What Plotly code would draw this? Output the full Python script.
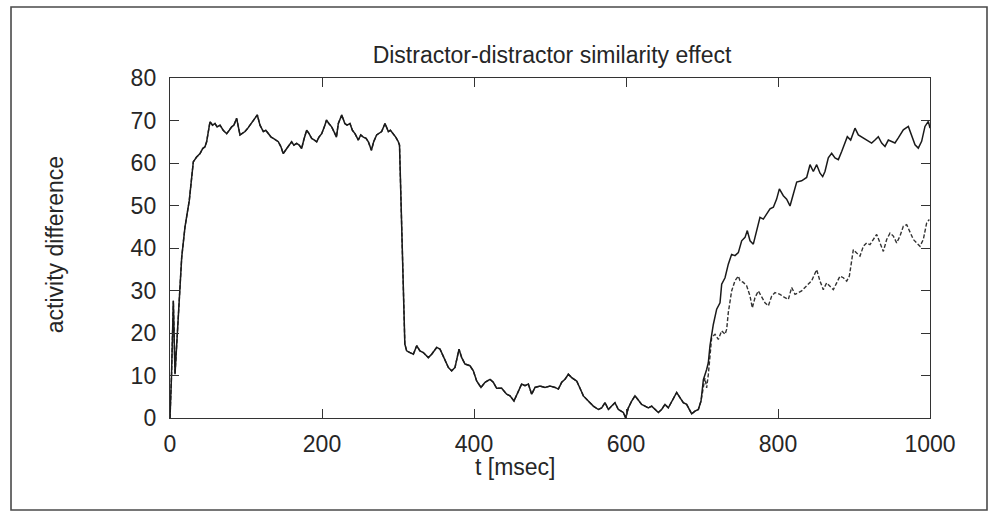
import plotly.graph_objects as go

# ---- activity difference, solid trace (t in msec, value) ----
t_onset = [0, 2, 4.4, 6.6, 15.4, 19.7, 25.4, 30.7, 35, 39.5, 43, 46, 48.2, 50.4]
v_onset = [0, 10, 27.6, 10.3, 37.8, 44.9, 51.2, 60.3, 61.4, 62.2, 63.4, 63.8, 65.0, 67.7]

t_high = [52.6, 56, 59.2, 62, 65.8, 70, 74.6, 78, 81.1, 84, 87.7, 92.1, 95, 98.7, 102,
          105.3, 109.6, 114.9, 118.4, 122.8, 126, 129.4, 133, 136, 140, 142.5, 146, 149,
          152, 155.7, 160, 163, 166.7, 170, 173.2, 176, 179.8, 183, 186.4, 190, 193, 196,
          199.6, 203, 206, 209, 212.7, 217, 219, 221.5, 226, 230, 233, 236.8, 240, 243.4,
          247.8, 251, 254.4, 258, 261, 265, 268, 271.9, 275, 278.5, 282.9, 285, 287.3, 290,
          293.9, 297, 300.4, 302]
v_high = [69.7, 68.9, 69.3, 68.5, 68.9, 67.7, 66.9, 67.7, 68.5, 68.9, 70.5, 66.6, 66.9, 67.4,
          68.1, 68.9, 70.1, 71.3, 68.9, 67.4, 67.7, 66.9, 66.1, 65.8, 65.4, 65.0, 63.8, 62.2,
          63.0, 63.8, 65.0, 64.2, 64.6, 64.2, 63.4, 65.4, 67.7, 66.9, 65.8, 65.4, 65.0, 66.1,
          66.9, 68.5, 70.1, 69.3, 68.5, 66.9, 66.1, 69.3, 71.3, 69.3, 68.9, 69.3, 67.7, 66.9,
          65.4, 66.6, 66.1, 65.8, 65.0, 63.0, 65.0, 66.6, 66.9, 67.4, 69.3, 68.5, 67.4, 67.7,
          66.9, 66.1, 65.0, 64.2]

t_low = [309, 311.4, 315.8, 320.2, 324.6, 328.9, 333.3, 339.9, 344.3, 350.9, 355.3, 359.6,
         366.2, 370.6, 375, 380.3, 383.8, 388.2, 394.7, 399.1, 403.5, 409.2, 414.5, 421.1,
         425.4, 429.8, 436.4, 443, 447.4, 452.6, 458.3, 462.7, 467.1, 471.5, 475.9, 480.3,
         486.8, 493.4, 500, 506.6, 511, 515.4, 519.7, 524.1, 528.5, 535.1, 539.5, 543.9,
         550.4, 557, 563.6, 568, 572.4, 576.8, 581.1, 585.5, 589.9, 596.5, 599.6, 603.1,
         607.5, 611.8, 615.4, 620.6, 625, 629.4, 633.8, 638.2, 642.5, 646.9, 651.3, 655.7,
         660.1, 666.7, 671, 675.4, 679.8, 686.4, 690.8, 695.2, 698.7]
v_low = [17.4, 15.8, 15.4, 15.0, 17.0, 15.8, 15.4, 14.2, 15.0, 16.6, 16.2, 14.6,
         11.9, 11.1, 11.9, 16.2, 14.2, 12.7, 12.3, 11.1, 8.7, 7.2, 8.4, 9.1,
         8.4, 7.0, 7.0, 5.6, 5.2, 4.0, 6.4, 8.0, 7.6, 8.0, 5.6, 7.2,
         7.5, 7.2, 7.5, 7.2, 6.8, 8.4, 9.1, 10.3, 9.5, 8.7, 7.0, 5.2,
         4.0, 2.8, 2.0, 2.4, 3.6, 2.0, 2.8, 3.6, 2.0, 1.3, 0.0, 2.4,
         4.0, 5.2, 4.4, 3.2, 2.8, 2.4, 2.8, 2.0, 1.3, 2.0, 3.2, 2.4,
         4.0, 6.0, 4.8, 3.6, 3.2, 1.0, 1.6, 2.0, 4.0]

t_recover = [701.8, 706.1, 708.3, 710.5, 714.9, 719.3, 723.7, 725.9, 730.3, 734.6, 739,
             743.4, 747.8, 752.2, 756.6, 759.6, 763.2, 767.5, 771.9, 776.3, 780.7, 785.1,
             789.5, 793.9, 798.2, 801.8, 807, 811.4, 815.8, 820.2, 824.6, 831.1, 837.7,
             842.1, 846.5, 850.9, 855.3, 858.8, 861.8, 866.2, 870.6, 875, 879.4, 883.8,
             888.2, 891.2, 895.6, 901.3, 905.7, 912.3, 918.9, 923.2, 927.6, 932, 936.4,
             940.8, 945.2, 949.6, 953.9, 958.3, 964.9, 971.5, 975.9, 980.3, 984.6, 989,
             993.4, 997.8, 1000]
v_recover = [9.0, 11.4, 13.0, 17.0, 22.0, 25.6, 27.1, 31.5, 33.0, 36.2, 38.5,
             38.2, 38.9, 41.7, 42.5, 44.1, 41.7, 40.9, 44.1, 47.2, 46.8, 48.0,
             49.2, 49.6, 51.5, 53.9, 52.3, 51.5, 49.9, 52.7, 55.5, 55.8, 56.6,
             59.6, 58.0, 59.6, 57.6, 56.8, 58.0, 61.2, 62.3, 61.2, 60.8, 62.7,
             64.7, 66.2, 65.4, 68.2, 66.6, 65.9, 65.1, 64.7, 65.4, 66.2, 64.7,
             63.9, 65.4, 65.1, 64.7, 65.9, 67.8, 68.6, 66.6, 64.3, 63.5, 65.1,
             68.6, 69.8, 68.2]

# ---- dashed trace: follows the solid one until ~700 msec, then splits off ----
t_split = [703.9, 706.1, 708.3, 712.7, 717.1, 721.5, 725.9, 730.3, 732.5, 734.6, 739,
           743.4, 747.8, 750, 754.4, 758.8, 763.2, 766.2, 769.7, 774.1, 778.5, 782.9,
           787.3, 791.7, 796.1, 802.6, 809.2, 813.6, 818, 822.4, 826.8, 831.1, 835.5,
           839.9, 844.3, 850.9, 855.3, 859.6, 864, 868.4, 872.8, 877.2, 881.6, 886,
           890.4, 893.9, 896.9, 899.1, 903.5, 907.9, 912.3, 916.7, 921, 925.4, 929.8,
           934.2, 938.6, 943, 947.4, 951.8, 956.1, 960.5, 964.9, 969.3, 973.7, 978.1,
           982.5, 986.8, 991.2, 995.6, 999.1]
v_split = [9.4, 7.1, 10.2, 18.9, 19.7, 18.5, 20.5, 19.7, 20.9, 24.8, 29.9,
           32.3, 33.4, 32.3, 31.9, 31.1, 28.7, 25.9, 28.3, 29.9, 28.3, 27.1,
           26.4, 28.7, 29.5, 29.1, 28.3, 27.9, 30.7, 29.1, 29.5, 29.9, 30.7,
           31.5, 32.3, 34.9, 32.2, 30.2, 31.8, 31.0, 30.2, 31.8, 33.4, 33.0,
           32.2, 33.4, 36.5, 39.6, 38.8, 38.1, 40.4, 41.2, 40.8, 42.0, 43.2,
           41.2, 39.2, 42.0, 43.5, 42.8, 41.2, 42.8, 45.1, 45.5, 43.9, 42.0,
           41.2, 40.4, 42.0, 45.9, 46.7]

# ---- axes ----
x_ticks = [0, 200, 400, 600, 800, 1000]
y_ticks = [0, 10, 20, 30, 40, 50, 60, 70, 80]

solid_t = t_onset + t_high + t_low + t_recover
solid_v = v_onset + v_high + v_low + v_recover
shared = [i for i, t in enumerate(solid_t) if t < 700]
dashed_t = [solid_t[i] for i in shared] + t_split
dashed_v = [solid_v[i] for i in shared] + v_split

FONT = "Liberation Sans, Arial, Helvetica, sans-serif"
INK = "#262626"

fig = go.Figure()
fig.add_trace(go.Scatter(x=dashed_t, y=dashed_v, mode="lines",
                         line=dict(color="#333333", width=1.4, dash="4px,2px")))
fig.add_trace(go.Scatter(x=solid_t, y=solid_v, mode="lines",
                         line=dict(color="#1a1a1a", width=1.5)))

axis_common = dict(showgrid=False, zeroline=False, showline=True, linecolor="#333333",
                   linewidth=1.4, ticks="inside", ticklen=9, tickwidth=1.2,
                   tickcolor="#333333", mirror="allticks",
                   tickfont=dict(family=FONT, size=23, color=INK))

fig.update_xaxes(range=[0, 1000], tickvals=x_ticks, ticktext=[str(v) for v in x_ticks],
                 ticklabelstandoff=5, **axis_common)
fig.update_yaxes(range=[0, 80], tickvals=y_ticks, ticktext=[str(v) for v in y_ticks],
                 ticklabelstandoff=8, **axis_common)

fig.update_layout(
    width=991, height=513,
    margin=dict(l=170, r=61, t=78, b=95),
    paper_bgcolor="white", plot_bgcolor="white",
    showlegend=False,
    title=dict(text="Distractor-distractor similarity effect",
               font=dict(family=FONT, size=23, color=INK),
               x=0.557, xanchor="center", y=1 - 55 / 513, yanchor="middle"),
    annotations=[
        dict(text="t [msec]", xref="paper", yref="paper", x=0.454, y=-0.144,
             showarrow=False, font=dict(family=FONT, size=23, color=INK),
             xanchor="center", yanchor="middle"),
        dict(text="activity difference", xref="paper", yref="paper", x=-0.151, y=0.509,
             showarrow=False, textangle=-90, font=dict(family=FONT, size=23, color=INK),
             xanchor="center", yanchor="middle"),
    ],
    shapes=[
        dict(type="rect", xref="paper", yref="paper", x0=-0.2092, x1=1.075,
             y0=-0.2706, y1=1.2088, line=dict(color="#4a4a4a", width=1.6),
             layer="below"),
    ],
)

fig.write_html("out.html")
